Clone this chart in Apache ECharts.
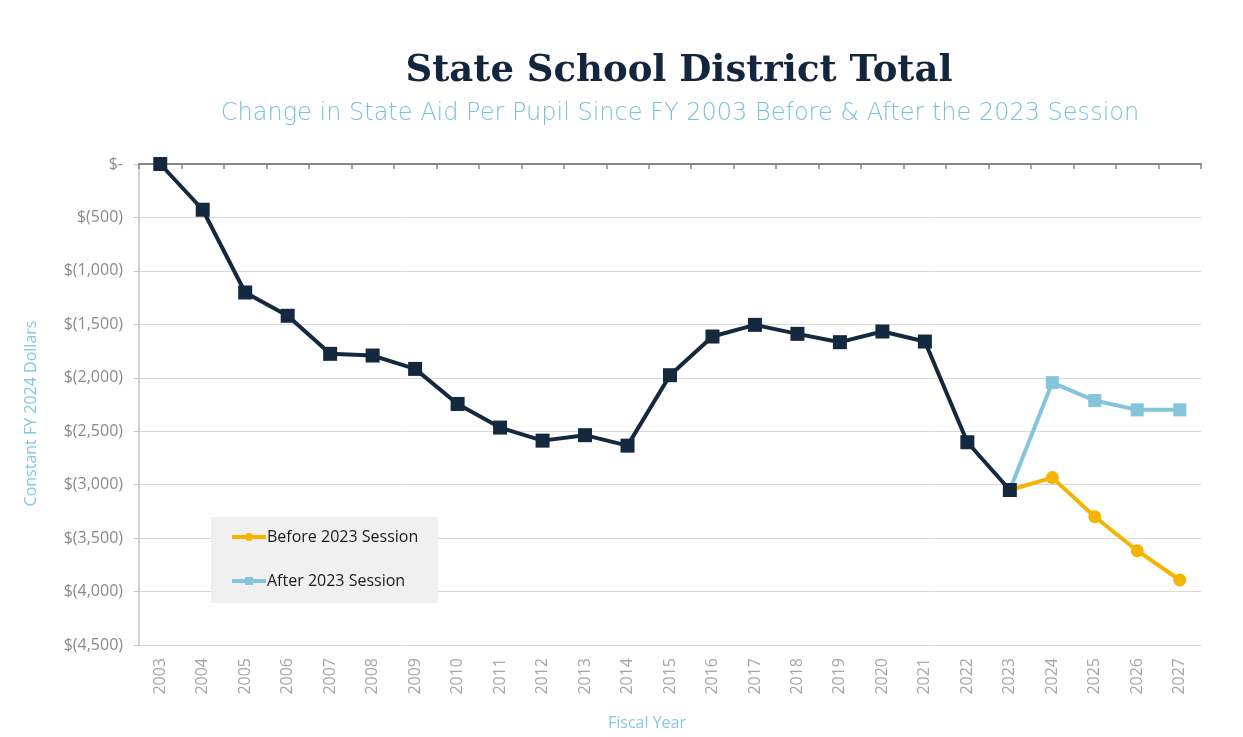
<!DOCTYPE html>
<html>
<head>
<meta charset="utf-8">
<script src="https://cdn.jsdelivr.net/npm/echarts@6/dist/echarts.min.js"></script>
<style>
  html, body { margin: 0; padding: 0; background: #fff; }
  #chart { width: 1243px; height: 737px; }
</style>
</head>
<body>
<div id="chart"></div>
<script>
// fiscal years
const years = ['2003', '2004', '2005', '2006', '2007', '2008', '2009', '2010', '2011', '2012',
  '2013', '2014', '2015', '2016', '2017', '2018', '2019', '2020', '2021', '2022',
  '2023', '2024', '2025', '2026', '2027'];

// actual change since FY 2003 (2003-2023)
const actual = [0, -428, -1202, -1420, -1776, -1792, -1917, -2245, -2466, -2588,
  -2537, -2635, -1976, -1614, -1505, -1589, -1667, -1567, -1661, -2603,
  -3050, null, null, null, null];

// projections from 2023
const beforeSession = [null, null, null, null, null, null, null, null, null, null,
  null, null, null, null, null, null, null, null, null, null,
  -3050, -2934, -3300, -3618, -3892];
const afterSession = [null, null, null, null, null, null, null, null, null, null,
  null, null, null, null, null, null, null, null, null, null,
  -3050, -2045, -2213, -2300, -2300];

const NAVY = '#14293f';
const GOLD = '#f5b400';
const SKY = '#85c5dc';
const FONT = '"Open Sans", Lato, sans-serif';

const chart = echarts.init(document.getElementById('chart'));

function dollars(v) {
  if (v === 0) return '$-';
  return '$(' + Math.abs(v).toLocaleString('en-US') + ')';
}

chart.setOption({
  backgroundColor: '#fff',
  animation: false,
  title: [{
    text: 'State School District Total',
    left: 674,
    top: 48,
    textAlign: 'center',
    textStyle: {
      fontFamily: '"DejaVu Serif", serif',
      fontWeight: 'bold',
      fontSize: 37,
      color: '#13263d',
    },
  }, {
    text: 'Change in State Aid Per Pupil Since FY 2003 Before & After the 2023 Session',
    left: 675,
    top: 97,
    textAlign: 'center',
    textStyle: {
      fontFamily: '"DejaVu Sans", sans-serif',
      fontWeight: 200,
      fontSize: 24,
      color: '#78c2de',
    },
  }],
  legend: {
    orient: 'vertical',
    left: 211,
    top: 517,
    padding: [12, 20, 14, 19],
    backgroundColor: '#f0f0f0',
    itemWidth: 34,
    itemHeight: 10,
    itemGap: 28,
    data: ['Before 2023 Session', 'After 2023 Session'],
    lineStyle: { width: 4 },
    textStyle: { fontFamily: FONT, fontSize: 16, color: '#1a1a1a', padding: [0, 0, 0, -4] },
  },
  grid: { left: 139, right: 42, top: 164, bottom: 92, containLabel: false },
  xAxis: [{
    type: 'category',
    data: years,
    position: 'bottom',
    boundaryGap: true,
    name: 'Fiscal Year',
    nameLocation: 'middle',
    nameGap: 70,
    nameTextStyle: { fontFamily: FONT, fontSize: 16, color: '#86c8e0', padding: [0, 46, 0, 0] },
    axisLine: { show: false },
    axisTick: { show: false },
    axisLabel: { rotate: 90, margin: 13, fontFamily: FONT, fontSize: 16, color: '#a6a6a6' },
  }, {
    type: 'category',
    data: years,
    position: 'top',
    boundaryGap: true,
    axisLine: { show: true, lineStyle: { color: '#878787', width: 2 } },
    axisTick: { show: true, inside: true, length: 5, lineStyle: { color: '#878787', width: 1.5 } },
    axisLabel: { show: false },
  }],
  yAxis: {
    type: 'value',
    min: -4500,
    max: 0,
    interval: 500,
    name: 'Constant FY 2024 Dollars',
    nameLocation: 'middle',
    nameGap: 100,
    nameTextStyle: { fontFamily: FONT, fontSize: 16, color: '#86c8e0', padding: [0, 18, 0, 0] },
    axisLine: { show: true, lineStyle: { color: '#c4c4c4', width: 1.5 } },
    axisTick: { show: true, length: 5, lineStyle: { color: '#c4c4c4' } },
    axisLabel: { margin: 16, fontFamily: FONT, fontSize: 16, color: '#8a8a8a', formatter: dollars },
    splitLine: { lineStyle: { color: '#d9d9d9', width: 1 } },
  },
  series: [{
    name: 'Before 2023 Session',
    type: 'line',
    data: beforeSession,
    symbol: 'circle',
    symbolSize: 13,
    showAllSymbol: true,
    lineStyle: { color: GOLD, width: 4 },
    itemStyle: { color: GOLD },
    z: 2,
  }, {
    name: 'After 2023 Session',
    type: 'line',
    data: afterSession,
    symbol: 'rect',
    symbolSize: 13,
    showAllSymbol: true,
    lineStyle: { color: SKY, width: 4 },
    itemStyle: { color: SKY },
    z: 3,
  }, {
    name: 'Actual',
    type: 'line',
    data: actual,
    symbol: 'rect',
    symbolSize: 14,
    showAllSymbol: true,
    lineStyle: { color: NAVY, width: 4 },
    itemStyle: { color: NAVY },
    z: 4,
  }],
});
</script>
</body>
</html>
